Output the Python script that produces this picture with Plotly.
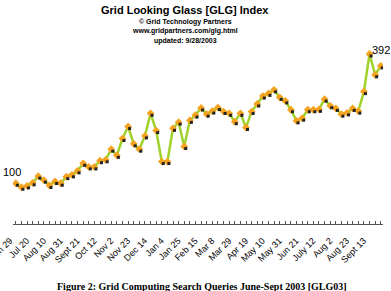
import plotly.graph_objects as go

# Weekly index values, Jun 29 2002 .. Sep 27 2003
weeks = list(range(66))
glg_values = [100, 91, 94, 101, 116, 107, 95, 104, 100, 115, 119, 128, 145, 137, 137, 151, 153, 177, 163, 201,
              228, 189, 177, 207, 258, 219, 149, 149, 224, 238, 183, 242, 254, 270, 256, 263, 271, 262, 258, 239,
              258, 226, 262, 279, 297, 303, 311, 294, 286, 266, 241, 247, 266, 266, 267, 290, 275, 269, 256, 259,
              269, 263, 307, 392, 345, 365]
tick_positions = list(range(0, 66, 3))
tick_labels = ["Jun 29", "Jul 20", "Aug 10", "Aug 31", "Sept 21", "Oct 12", "Nov 2", "Nov 23", "Dec 14",
               "Jan 4", "Jan 25", "Feb 15", "Mar 8", "Mar 29", "Apr 19", "May 10", "May 31", "Jun 21",
               "July 12", "Aug 2", "Aug 23", "Sept 13"]

X_RANGE = [-0.5, 65.4]
Y_RANGE = [8, 401]
SHADOW_DX = 0.27   # ~1.5 px
SHADOW_DY = 4.5    # ~2 px

fig = go.Figure()
# marker shadows on an overlaid, slightly shifted axis pair
fig.add_trace(go.Scatter(x=weeks, y=glg_values, mode="markers", xaxis="x2", yaxis="y2",
                         marker=dict(symbol="square", size=3, color="#222222"),
                         hoverinfo="skip", showlegend=False))
fig.add_trace(go.Scatter(x=weeks, y=glg_values, mode="lines+markers",
                         line=dict(color="#9FD22B", width=2.5),
                         marker=dict(symbol="diamond", size=6, color="#F5A21E"),
                         showlegend=False))

fig.add_annotation(x=weeks[0], y=glg_values[0], text="100", showarrow=False,
                   xanchor="center", yanchor="bottom", xshift=-4, yshift=3,
                   font=dict(family="Arial", size=11, color="black"))
fig.add_annotation(x=weeks[63], y=glg_values[63], text="392", showarrow=False,
                   xanchor="left", yanchor="bottom", xshift=0, yshift=-4,
                   font=dict(family="Arial", size=11, color="black"))

title_font = dict(family="Arial", size=11, color="black")
sub_font = dict(family="Arial", size=7, color="black")
fig.add_annotation(xref="paper", yref="paper", x=0.465, y=1.230, text="<b>Grid Looking Glass [GLG] Index</b>",
                   showarrow=False, xanchor="center", yanchor="middle", font=title_font)
for yy, txt in [(1.161, "© Grid Technology Partners"), (1.109, "www.gridpartners.com/glg.html"),
                (1.052, "updated: 9/28/2003")]:
    fig.add_annotation(xref="paper", yref="paper", x=0.465, y=yy, text="<b>" + txt + "</b>",
                       showarrow=False, xanchor="center", yanchor="middle", font=sub_font)
fig.add_annotation(xref="paper", yref="paper", x=0.511, y=-0.362,
                   text="<b>Figure 2: Grid Computing Search Queries June-Sept 2003 [GLG03]</b>",
                   showarrow=False, xanchor="center", yanchor="middle",
                   font=dict(family="Liberation Serif", size=10, color="black"))

fig.update_layout(
    width=391, height=291,
    margin=dict(l=13, r=8, t=50, b=67, autoexpand=False),
    paper_bgcolor="white", plot_bgcolor="white",
    xaxis=dict(range=X_RANGE, tickmode="array", tickvals=tick_positions, ticktext=tick_labels,
               tickangle=-45, tickfont=dict(family="Arial", size=9, color="black"),
               automargin=False,
               ticklabeloverflow="allow", ticklabelstandoff=7, ticklabelshift=-6,
               showline=True, linecolor="#555555", linewidth=1, showgrid=False, zeroline=False,
               ticks="inside", ticklen=3, tickcolor="#555555",
               minor=dict(dtick=1, tick0=0, ticks="inside", ticklen=3, tickcolor="#555555", showgrid=False)),
    yaxis=dict(range=Y_RANGE, visible=False, showgrid=False, zeroline=False, automargin=False),
    xaxis2=dict(range=[X_RANGE[0] - SHADOW_DX, X_RANGE[1] - SHADOW_DX], overlaying="x", visible=False),
    yaxis2=dict(range=[Y_RANGE[0] + SHADOW_DY, Y_RANGE[1] + SHADOW_DY], overlaying="y", visible=False),
)

fig.write_html("out.html")
